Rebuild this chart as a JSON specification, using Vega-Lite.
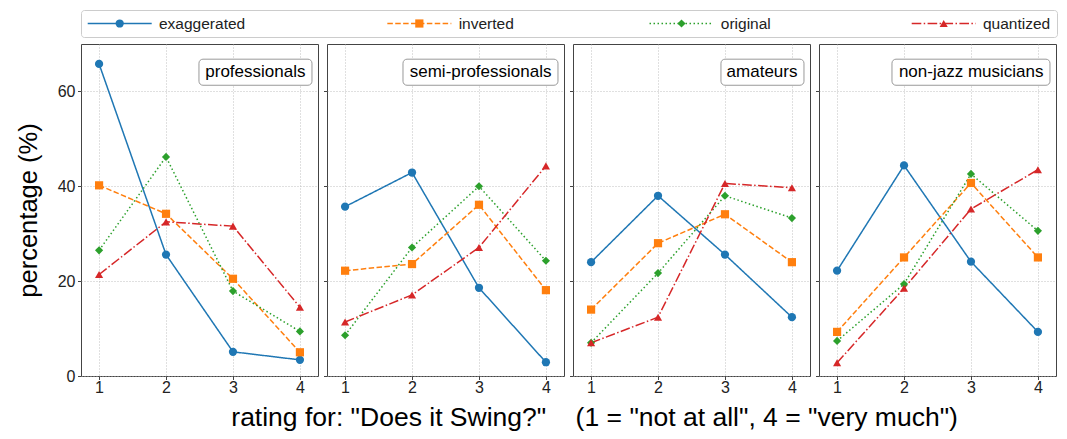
{
  "$schema": "https://vega.github.io/schema/vega-lite/v6.json",
  "padding": {"left": 15, "top": 9, "right": 5, "bottom": 2},
  "bounds": "flush",
  "spacing": 7,
  "config": {
    "font": "Liberation Sans",
    "view": {"stroke": "#444444", "strokeWidth": 1},
    "axis": {"domain": false, "tickColor": "#444444", "tickSize": 3.5, "labelFontSize": 16, "labelColor": "#222222", "gridColor": "#b0b0b0", "gridDash": [1, 2], "gridWidth": 0.8}
  },
  "datasets": {
    "ratings": [
      {"group": "professionals", "series": "exaggerated", "rating": 1, "pct": 65.8},
      {"group": "professionals", "series": "exaggerated", "rating": 2, "pct": 25.6},
      {"group": "professionals", "series": "exaggerated", "rating": 3, "pct": 5.1},
      {"group": "professionals", "series": "exaggerated", "rating": 4, "pct": 3.4},
      {"group": "professionals", "series": "inverted", "rating": 1, "pct": 40.2},
      {"group": "professionals", "series": "inverted", "rating": 2, "pct": 34.2},
      {"group": "professionals", "series": "inverted", "rating": 3, "pct": 20.5},
      {"group": "professionals", "series": "inverted", "rating": 4, "pct": 5.0},
      {"group": "professionals", "series": "original", "rating": 1, "pct": 26.5},
      {"group": "professionals", "series": "original", "rating": 2, "pct": 46.2},
      {"group": "professionals", "series": "original", "rating": 3, "pct": 17.9},
      {"group": "professionals", "series": "original", "rating": 4, "pct": 9.4},
      {"group": "professionals", "series": "quantized", "rating": 1, "pct": 21.4},
      {"group": "professionals", "series": "quantized", "rating": 2, "pct": 32.5},
      {"group": "professionals", "series": "quantized", "rating": 3, "pct": 31.6},
      {"group": "professionals", "series": "quantized", "rating": 4, "pct": 14.5},
      {"group": "semi-professionals", "series": "exaggerated", "rating": 1, "pct": 35.7},
      {"group": "semi-professionals", "series": "exaggerated", "rating": 2, "pct": 42.9},
      {"group": "semi-professionals", "series": "exaggerated", "rating": 3, "pct": 18.6},
      {"group": "semi-professionals", "series": "exaggerated", "rating": 4, "pct": 2.9},
      {"group": "semi-professionals", "series": "inverted", "rating": 1, "pct": 22.2},
      {"group": "semi-professionals", "series": "inverted", "rating": 2, "pct": 23.6},
      {"group": "semi-professionals", "series": "inverted", "rating": 3, "pct": 36.1},
      {"group": "semi-professionals", "series": "inverted", "rating": 4, "pct": 18.1},
      {"group": "semi-professionals", "series": "original", "rating": 1, "pct": 8.6},
      {"group": "semi-professionals", "series": "original", "rating": 2, "pct": 27.1},
      {"group": "semi-professionals", "series": "original", "rating": 3, "pct": 40.0},
      {"group": "semi-professionals", "series": "original", "rating": 4, "pct": 24.3},
      {"group": "semi-professionals", "series": "quantized", "rating": 1, "pct": 11.4},
      {"group": "semi-professionals", "series": "quantized", "rating": 2, "pct": 17.1},
      {"group": "semi-professionals", "series": "quantized", "rating": 3, "pct": 27.1},
      {"group": "semi-professionals", "series": "quantized", "rating": 4, "pct": 44.3},
      {"group": "amateurs", "series": "exaggerated", "rating": 1, "pct": 24.0},
      {"group": "amateurs", "series": "exaggerated", "rating": 2, "pct": 38.0},
      {"group": "amateurs", "series": "exaggerated", "rating": 3, "pct": 25.6},
      {"group": "amateurs", "series": "exaggerated", "rating": 4, "pct": 12.4},
      {"group": "amateurs", "series": "inverted", "rating": 1, "pct": 14.0},
      {"group": "amateurs", "series": "inverted", "rating": 2, "pct": 28.0},
      {"group": "amateurs", "series": "inverted", "rating": 3, "pct": 34.1},
      {"group": "amateurs", "series": "inverted", "rating": 4, "pct": 24.0},
      {"group": "amateurs", "series": "original", "rating": 1, "pct": 7.0},
      {"group": "amateurs", "series": "original", "rating": 2, "pct": 21.7},
      {"group": "amateurs", "series": "original", "rating": 3, "pct": 38.0},
      {"group": "amateurs", "series": "original", "rating": 4, "pct": 33.3},
      {"group": "amateurs", "series": "quantized", "rating": 1, "pct": 7.0},
      {"group": "amateurs", "series": "quantized", "rating": 2, "pct": 12.4},
      {"group": "amateurs", "series": "quantized", "rating": 3, "pct": 40.6},
      {"group": "amateurs", "series": "quantized", "rating": 4, "pct": 39.7},
      {"group": "non-jazz musicians", "series": "exaggerated", "rating": 1, "pct": 22.2},
      {"group": "non-jazz musicians", "series": "exaggerated", "rating": 2, "pct": 44.4},
      {"group": "non-jazz musicians", "series": "exaggerated", "rating": 3, "pct": 24.1},
      {"group": "non-jazz musicians", "series": "exaggerated", "rating": 4, "pct": 9.3},
      {"group": "non-jazz musicians", "series": "inverted", "rating": 1, "pct": 9.3},
      {"group": "non-jazz musicians", "series": "inverted", "rating": 2, "pct": 25.0},
      {"group": "non-jazz musicians", "series": "inverted", "rating": 3, "pct": 40.7},
      {"group": "non-jazz musicians", "series": "inverted", "rating": 4, "pct": 25.0},
      {"group": "non-jazz musicians", "series": "original", "rating": 1, "pct": 7.4},
      {"group": "non-jazz musicians", "series": "original", "rating": 2, "pct": 19.4},
      {"group": "non-jazz musicians", "series": "original", "rating": 3, "pct": 42.6},
      {"group": "non-jazz musicians", "series": "original", "rating": 4, "pct": 30.6},
      {"group": "non-jazz musicians", "series": "quantized", "rating": 1, "pct": 2.8},
      {"group": "non-jazz musicians", "series": "quantized", "rating": 2, "pct": 18.5},
      {"group": "non-jazz musicians", "series": "quantized", "rating": 3, "pct": 35.2},
      {"group": "non-jazz musicians", "series": "quantized", "rating": 4, "pct": 43.5}
    ],
    "legend": [
      {"series": "exaggerated"},
      {"series": "inverted"},
      {"series": "original"},
      {"series": "quantized"}
    ]
  },
  "title": {
    "text": "rating for: \"Does it Swing?\"\u00a0\u00a0\u00a0\u00a0(1 = \"not at all\", 4 = \"very much\")",
    "orient": "bottom",
    "anchor": "middle",
    "fontSize": 26.5,
    "fontWeight": "normal",
    "color": "#000000",
    "offset": 9,
    "dx": 58
  },
  "vconcat": [
    {
      "width": 976,
      "height": 27,
      "data": {"name": "legend"},
      "view": {"stroke": "#cccccc", "cornerRadius": 3},
      "encoding": {
        "x": {"field": "series", "type": "nominal", "sort": null, "scale": {"type": "point", "padding": 0, "range": [38.7, 862.7], "domain": ["exaggerated", "f1", "f2", "f3", "f4", "f5", "f6", "f7", "inverted", "f9", "f10", "f11", "f12", "f13", "f14", "original", "f16", "f17", "f18", "f19", "f20", "f21", "quantized"]}, "axis": null}
      },
      "layer": [
        {
          "mark": {"type": "point", "shape": "M-1,0H1", "filled": false, "size": 4096, "strokeWidth": 1.5, "opacity": 1},
          "encoding": {
            "color": {"field": "series", "type": "nominal", "scale": {"domain": ["exaggerated", "inverted", "original", "quantized"], "range": ["#1f77b4", "#ff7f0e", "#2ca02c", "#d62728"]}, "legend": null},
            "strokeDash": {"field": "series", "type": "nominal", "scale": {"domain": ["exaggerated", "inverted", "original", "quantized"], "range": [[1, 0], [5.5, 2.4], [1.5, 2.5], [9.6, 2.4, 1.5, 2.4]]}, "legend": null}
          }
        },
        {
          "mark": {"type": "point", "filled": true, "opacity": 1},
          "encoding": {
            "color": {"field": "series", "type": "nominal", "scale": {"domain": ["exaggerated", "inverted", "original", "quantized"], "range": ["#1f77b4", "#ff7f0e", "#2ca02c", "#d62728"]}, "legend": null},
            "shape": {"field": "series", "type": "nominal", "scale": {"domain": ["exaggerated", "inverted", "original", "quantized"], "range": ["circle", "square", "diamond", "triangle-up"]}, "legend": null},
            "size": {"field": "series", "type": "nominal", "scale": {"domain": ["exaggerated", "inverted", "original", "quantized"], "range": [68, 66, 130, 95]}, "legend": null}
          }
        },
        {
          "mark": {"type": "text", "align": "left", "baseline": "middle", "dx": 39.3, "fontSize": 15.5, "color": "#222222"},
          "encoding": {"text": {"field": "series"}}
        }
      ]
    },
    {
      "hconcat": [
        {
          "width": 237, "height": 332,
          "encoding": {
            "x": {"field": "rating", "type": "quantitative", "scale": {"domain": [0.73, 4.27], "nice": false, "zero": false}, "axis": {"values": [1, 2, 3, 4], "format": "d", "title": null, "grid": true, "labelPadding": 0}},
            "y": {"field": "pct", "type": "quantitative", "scale": {"domain": [0, 70], "nice": false}, "axis": {"values": [0, 20, 40, 60], "title": "percentage (%)", "titleFontSize": 25.5, "titleFontWeight": "normal", "titleColor": "#000000", "titlePadding": 16, "labelPadding": 2.5, "grid": true}}
          },
          "layer": [
            {
              "data": {"name": "ratings"},
              "transform": [{"filter": "datum.group === 'professionals'"}],
              "mark": {"type": "line", "strokeWidth": 1.5},
              "encoding": {
                "color": {"field": "series", "type": "nominal", "scale": {"domain": ["exaggerated", "inverted", "original", "quantized"], "range": ["#1f77b4", "#ff7f0e", "#2ca02c", "#d62728"]}, "legend": null},
                "strokeDash": {"field": "series", "type": "nominal", "scale": {"domain": ["exaggerated", "inverted", "original", "quantized"], "range": [[1, 0], [5.5, 2.4], [1.5, 2.5], [9.6, 2.4, 1.5, 2.4]]}, "legend": null}
              }
            },
            {
              "data": {"name": "ratings"},
              "transform": [{"filter": "datum.group === 'professionals'"}],
              "mark": {"type": "point", "filled": true, "opacity": 1},
              "encoding": {
                "color": {"field": "series", "type": "nominal", "scale": {"domain": ["exaggerated", "inverted", "original", "quantized"], "range": ["#1f77b4", "#ff7f0e", "#2ca02c", "#d62728"]}, "legend": null},
                "shape": {"field": "series", "type": "nominal", "scale": {"domain": ["exaggerated", "inverted", "original", "quantized"], "range": ["circle", "square", "diamond", "triangle-up"]}, "legend": null},
                "size": {"field": "series", "type": "nominal", "scale": {"domain": ["exaggerated", "inverted", "original", "quantized"], "range": [68, 66, 130, 95]}, "legend": null}
              }
            },
            {
              "data": {"name": "ratings"},
              "transform": [{"filter": "datum.group === 'professionals' && datum.rating === 1 && datum.series === 'exaggerated'"}],
              "mark": {"type": "rect", "fill": "#ffffff", "stroke": "#999999", "strokeWidth": 1, "cornerRadius": 4},
              "encoding": {"x": {"datum": 2.492}, "x2": {"datum": 4.18}, "y": {"datum": 66.8}, "y2": {"datum": 61.3}}
            },
            {
              "data": {"name": "ratings"},
              "transform": [{"filter": "datum.group === 'professionals' && datum.rating === 1 && datum.series === 'exaggerated'"}],
              "mark": {"type": "text", "align": "right", "baseline": "middle", "dx": -6.5, "fontSize": 17, "color": "#000000"},
              "encoding": {"x": {"datum": 4.18}, "y": {"datum": 64.1}, "text": {"field": "group"}}
            }
          ]
        },
        {
          "width": 237, "height": 332,
          "encoding": {
            "x": {"field": "rating", "type": "quantitative", "scale": {"domain": [0.73, 4.27], "nice": false, "zero": false}, "axis": {"values": [1, 2, 3, 4], "format": "d", "title": null, "grid": true, "labelPadding": 0}},
            "y": {"field": "pct", "type": "quantitative", "scale": {"domain": [0, 70], "nice": false}, "axis": {"values": [0, 20, 40, 60], "title": null, "labels": false, "grid": true}}
          },
          "layer": [
            {
              "data": {"name": "ratings"},
              "transform": [{"filter": "datum.group === 'semi-professionals'"}],
              "mark": {"type": "line", "strokeWidth": 1.5},
              "encoding": {
                "color": {"field": "series", "type": "nominal", "scale": {"domain": ["exaggerated", "inverted", "original", "quantized"], "range": ["#1f77b4", "#ff7f0e", "#2ca02c", "#d62728"]}, "legend": null},
                "strokeDash": {"field": "series", "type": "nominal", "scale": {"domain": ["exaggerated", "inverted", "original", "quantized"], "range": [[1, 0], [5.5, 2.4], [1.5, 2.5], [9.6, 2.4, 1.5, 2.4]]}, "legend": null}
              }
            },
            {
              "data": {"name": "ratings"},
              "transform": [{"filter": "datum.group === 'semi-professionals'"}],
              "mark": {"type": "point", "filled": true, "opacity": 1},
              "encoding": {
                "color": {"field": "series", "type": "nominal", "scale": {"domain": ["exaggerated", "inverted", "original", "quantized"], "range": ["#1f77b4", "#ff7f0e", "#2ca02c", "#d62728"]}, "legend": null},
                "shape": {"field": "series", "type": "nominal", "scale": {"domain": ["exaggerated", "inverted", "original", "quantized"], "range": ["circle", "square", "diamond", "triangle-up"]}, "legend": null},
                "size": {"field": "series", "type": "nominal", "scale": {"domain": ["exaggerated", "inverted", "original", "quantized"], "range": [68, 66, 130, 95]}, "legend": null}
              }
            },
            {
              "data": {"name": "ratings"},
              "transform": [{"filter": "datum.group === 'semi-professionals' && datum.rating === 1 && datum.series === 'exaggerated'"}],
              "mark": {"type": "rect", "fill": "#ffffff", "stroke": "#999999", "strokeWidth": 1, "cornerRadius": 4},
              "encoding": {"x": {"datum": 1.865}, "x2": {"datum": 4.18}, "y": {"datum": 66.8}, "y2": {"datum": 61.3}}
            },
            {
              "data": {"name": "ratings"},
              "transform": [{"filter": "datum.group === 'semi-professionals' && datum.rating === 1 && datum.series === 'exaggerated'"}],
              "mark": {"type": "text", "align": "right", "baseline": "middle", "dx": -6.5, "fontSize": 17, "color": "#000000"},
              "encoding": {"x": {"datum": 4.18}, "y": {"datum": 64.1}, "text": {"field": "group"}}
            }
          ]
        },
        {
          "width": 237, "height": 332,
          "encoding": {
            "x": {"field": "rating", "type": "quantitative", "scale": {"domain": [0.73, 4.27], "nice": false, "zero": false}, "axis": {"values": [1, 2, 3, 4], "format": "d", "title": null, "grid": true, "labelPadding": 0}},
            "y": {"field": "pct", "type": "quantitative", "scale": {"domain": [0, 70], "nice": false}, "axis": {"values": [0, 20, 40, 60], "title": null, "labels": false, "grid": true}}
          },
          "layer": [
            {
              "data": {"name": "ratings"},
              "transform": [{"filter": "datum.group === 'amateurs'"}],
              "mark": {"type": "line", "strokeWidth": 1.5},
              "encoding": {
                "color": {"field": "series", "type": "nominal", "scale": {"domain": ["exaggerated", "inverted", "original", "quantized"], "range": ["#1f77b4", "#ff7f0e", "#2ca02c", "#d62728"]}, "legend": null},
                "strokeDash": {"field": "series", "type": "nominal", "scale": {"domain": ["exaggerated", "inverted", "original", "quantized"], "range": [[1, 0], [5.5, 2.4], [1.5, 2.5], [9.6, 2.4, 1.5, 2.4]]}, "legend": null}
              }
            },
            {
              "data": {"name": "ratings"},
              "transform": [{"filter": "datum.group === 'amateurs'"}],
              "mark": {"type": "point", "filled": true, "opacity": 1},
              "encoding": {
                "color": {"field": "series", "type": "nominal", "scale": {"domain": ["exaggerated", "inverted", "original", "quantized"], "range": ["#1f77b4", "#ff7f0e", "#2ca02c", "#d62728"]}, "legend": null},
                "shape": {"field": "series", "type": "nominal", "scale": {"domain": ["exaggerated", "inverted", "original", "quantized"], "range": ["circle", "square", "diamond", "triangle-up"]}, "legend": null},
                "size": {"field": "series", "type": "nominal", "scale": {"domain": ["exaggerated", "inverted", "original", "quantized"], "range": [68, 66, 130, 95]}, "legend": null}
              }
            },
            {
              "data": {"name": "ratings"},
              "transform": [{"filter": "datum.group === 'amateurs' && datum.rating === 1 && datum.series === 'exaggerated'"}],
              "mark": {"type": "rect", "fill": "#ffffff", "stroke": "#999999", "strokeWidth": 1, "cornerRadius": 4},
              "encoding": {"x": {"datum": 2.94}, "x2": {"datum": 4.18}, "y": {"datum": 66.8}, "y2": {"datum": 61.3}}
            },
            {
              "data": {"name": "ratings"},
              "transform": [{"filter": "datum.group === 'amateurs' && datum.rating === 1 && datum.series === 'exaggerated'"}],
              "mark": {"type": "text", "align": "right", "baseline": "middle", "dx": -6.5, "fontSize": 17, "color": "#000000"},
              "encoding": {"x": {"datum": 4.18}, "y": {"datum": 64.1}, "text": {"field": "group"}}
            }
          ]
        },
        {
          "width": 237, "height": 332,
          "encoding": {
            "x": {"field": "rating", "type": "quantitative", "scale": {"domain": [0.73, 4.27], "nice": false, "zero": false}, "axis": {"values": [1, 2, 3, 4], "format": "d", "title": null, "grid": true, "labelPadding": 0}},
            "y": {"field": "pct", "type": "quantitative", "scale": {"domain": [0, 70], "nice": false}, "axis": {"values": [0, 20, 40, 60], "title": null, "labels": false, "grid": true}}
          },
          "layer": [
            {
              "data": {"name": "ratings"},
              "transform": [{"filter": "datum.group === 'non-jazz musicians'"}],
              "mark": {"type": "line", "strokeWidth": 1.5},
              "encoding": {
                "color": {"field": "series", "type": "nominal", "scale": {"domain": ["exaggerated", "inverted", "original", "quantized"], "range": ["#1f77b4", "#ff7f0e", "#2ca02c", "#d62728"]}, "legend": null},
                "strokeDash": {"field": "series", "type": "nominal", "scale": {"domain": ["exaggerated", "inverted", "original", "quantized"], "range": [[1, 0], [5.5, 2.4], [1.5, 2.5], [9.6, 2.4, 1.5, 2.4]]}, "legend": null}
              }
            },
            {
              "data": {"name": "ratings"},
              "transform": [{"filter": "datum.group === 'non-jazz musicians'"}],
              "mark": {"type": "point", "filled": true, "opacity": 1},
              "encoding": {
                "color": {"field": "series", "type": "nominal", "scale": {"domain": ["exaggerated", "inverted", "original", "quantized"], "range": ["#1f77b4", "#ff7f0e", "#2ca02c", "#d62728"]}, "legend": null},
                "shape": {"field": "series", "type": "nominal", "scale": {"domain": ["exaggerated", "inverted", "original", "quantized"], "range": ["circle", "square", "diamond", "triangle-up"]}, "legend": null},
                "size": {"field": "series", "type": "nominal", "scale": {"domain": ["exaggerated", "inverted", "original", "quantized"], "range": [68, 66, 130, 95]}, "legend": null}
              }
            },
            {
              "data": {"name": "ratings"},
              "transform": [{"filter": "datum.group === 'non-jazz musicians' && datum.rating === 1 && datum.series === 'exaggerated'"}],
              "mark": {"type": "rect", "fill": "#ffffff", "stroke": "#999999", "strokeWidth": 1, "cornerRadius": 4},
              "encoding": {"x": {"datum": 1.82}, "x2": {"datum": 4.18}, "y": {"datum": 66.8}, "y2": {"datum": 61.3}}
            },
            {
              "data": {"name": "ratings"},
              "transform": [{"filter": "datum.group === 'non-jazz musicians' && datum.rating === 1 && datum.series === 'exaggerated'"}],
              "mark": {"type": "text", "align": "right", "baseline": "middle", "dx": -6.5, "fontSize": 17, "color": "#000000"},
              "encoding": {"x": {"datum": 4.18}, "y": {"datum": 64.1}, "text": {"field": "group"}}
            }
          ]
        }
      ],
      "spacing": 9,
      "bounds": "flush"
    }
  ]
}
